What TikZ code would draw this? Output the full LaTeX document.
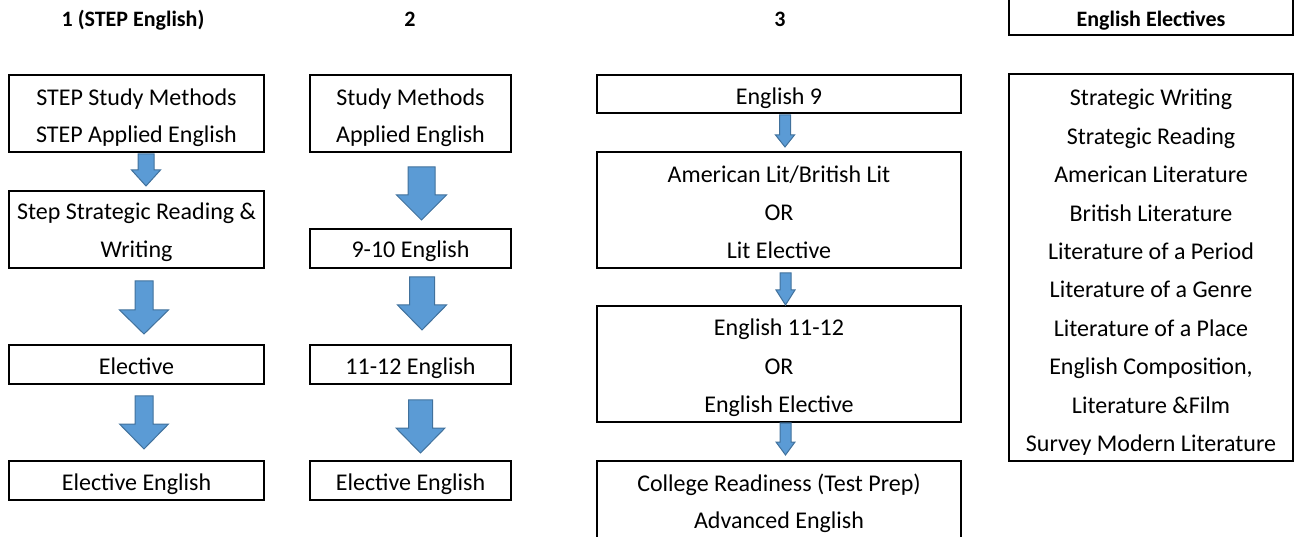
\documentclass[tikz,border=0pt]{standalone}
\usepackage{fontspec}
\setmainfont{Carlito}
\definecolor{arrowfill}{RGB}{91,155,213}
\definecolor{arrowedge}{RGB}{65,113,156}
\newcommand\barrowshape[6]{%
  \draw[barrow] ({#1-#5},#2) -- ({#1+#5},#2) -- ({#1+#5},#3) -- ({#1+#6},#3) -- (#1,#4) -- ({#1-#6},#3) -- ({#1-#5},#3) -- cycle;}
\tikzset{
  box/.style={draw, line width=1.8pt, inner sep=0pt, outer sep=0pt},
  openbox/.style={inner sep=0pt, outer sep=0pt},
  frame/.style={line width=1.8pt},
  txt/.style={anchor=base, inner sep=0pt, font=\fontsize{24}{28}\selectfont},
  head/.style={anchor=base, inner sep=0pt, font=\fontsize{22}{26}\selectfont\bfseries},
  barrow/.style={fill=arrowfill, draw=arrowedge, line width=1pt, line join=miter},
}
\begin{document}
\begin{tikzpicture}[x=1pt,y=-1pt]
\useasboundingbox (0,0) rectangle (1294,537);
\clip (0,0) rectangle (1294,537);
% headers
\node[head] (h1) at (133,27) {1 (STEP English)};
\node[head] (h2) at (410,27) {2};
\node[head] (h3) at (780,27) {3};
\node[openbox, minimum width=284pt, minimum height=60pt] (b40) at (1151,5) {};
\draw[frame] (b40.north west) -- (b40.south west) -- (b40.south east) -- (b40.north east);
\node[head] (h4) at (1151,27) {English Electives};
% column 1
\node[box, minimum width=255pt, minimum height=77pt] (b11) at (136.5,113.5) {};
\node[txt] (t11a) at (136.5,106) {STEP Study Methods};
\node[txt] (t11b) at (136.5,143) {STEP Applied English};
\node[box, minimum width=255pt, minimum height=77pt] (b12) at (136.5,229.5) {};
\node[txt] (t12a) at (136.5,220) {Step Strategic Reading \&};
\node[txt] (t12b) at (136.5,258) {Writing};
\node[box, minimum width=255pt, minimum height=39pt] (b13) at (136.5,364.5) {};
\node[txt] (t13) at (136.5,375) {Elective};
\node[box, minimum width=255pt, minimum height=39pt] (b14) at (136.5,480.5) {};
\node[txt] (t14) at (136.5,490) {Elective English};
\barrowshape{146}{154}{170}{186}{8}{14.5}
\barrowshape{144}{281}{310}{334}{9}{24.5}
\barrowshape{144}{396}{424}{449}{9}{24.5}
% column 2
\node[box, minimum width=201pt, minimum height=77pt] (b21) at (410.5,113.5) {};
\node[txt] (t21a) at (410.5,106) {Study Methods};
\node[txt] (t21b) at (410.5,143) {Applied English};
\node[box, minimum width=201pt, minimum height=39pt] (b22) at (410.5,248.5) {};
\node[txt] (t22) at (410.5,258) {9-10 English};
\node[box, minimum width=201pt, minimum height=39pt] (b23) at (410.5,364.5) {};
\node[txt] (t23) at (410.5,375) {11-12 English};
\node[box, minimum width=201pt, minimum height=39pt] (b24) at (410.5,480.5) {};
\node[txt] (t24) at (410.5,490) {Elective English};
\barrowshape{421.5}{167}{195}{220}{13.5}{25}
\barrowshape{422}{277}{305}{330}{12.5}{24.5}
\barrowshape{420.5}{400}{428}{453}{12}{24.5}
% column 3
\node[box, minimum width=364pt, minimum height=38pt] (b31) at (779,94) {};
\node[txt] (t31) at (779,105) {English 9};
\node[box, minimum width=364pt, minimum height=116pt] (b32) at (779,210) {};
\node[txt] (t32a) at (779,183) {American Lit/British Lit};
\node[txt] (t32b) at (779,221) {OR};
\node[txt] (t32c) at (779,259) {Lit Elective};
\node[box, minimum width=364pt, minimum height=116pt] (b33) at (779,364) {};
\node[txt] (t33a) at (779,336) {English 11-12};
\node[txt] (t33b) at (779,375) {OR};
\node[txt] (t33c) at (779,413) {English Elective};
\node[openbox, minimum width=364pt, minimum height=100pt] (b34) at (779,511) {};
\draw[frame] (b34.south west) -- (b34.north west) -- (b34.north east) -- (b34.south east);
\node[txt] (t34a) at (779,491) {College Readiness (Test Prep)};
\node[txt] (t34b) at (779,528) {Advanced English};
\barrowshape{785}{115}{135}{147}{5.5}{9.5}
\barrowshape{785.5}{273}{290}{305}{5.5}{9.5}
\barrowshape{785.5}{423}{442}{455}{5.5}{9.5}
% column 4
\node[box, minimum width=284pt, minimum height=387pt] (b41) at (1151,267.5) {};
\node[txt] (e1) at (1151,106) {Strategic Writing};
\node[txt] (e2) at (1151,144.4) {Strategic Reading};
\node[txt] (e3) at (1151,182.8) {American Literature};
\node[txt] (e4) at (1151,221.2) {British Literature};
\node[txt] (e5) at (1151,259.6) {Literature of a Period};
\node[txt] (e6) at (1151,298) {Literature of a Genre};
\node[txt] (e7) at (1151,336.4) {Literature of a Place};
\node[txt] (e8) at (1151,374.8) {English Composition,};
\node[txt] (e9) at (1151,413.2) {Literature \&Film};
\node[txt] (e10) at (1151,451.6) {Survey Modern Literature};
\end{tikzpicture}
\end{document}
